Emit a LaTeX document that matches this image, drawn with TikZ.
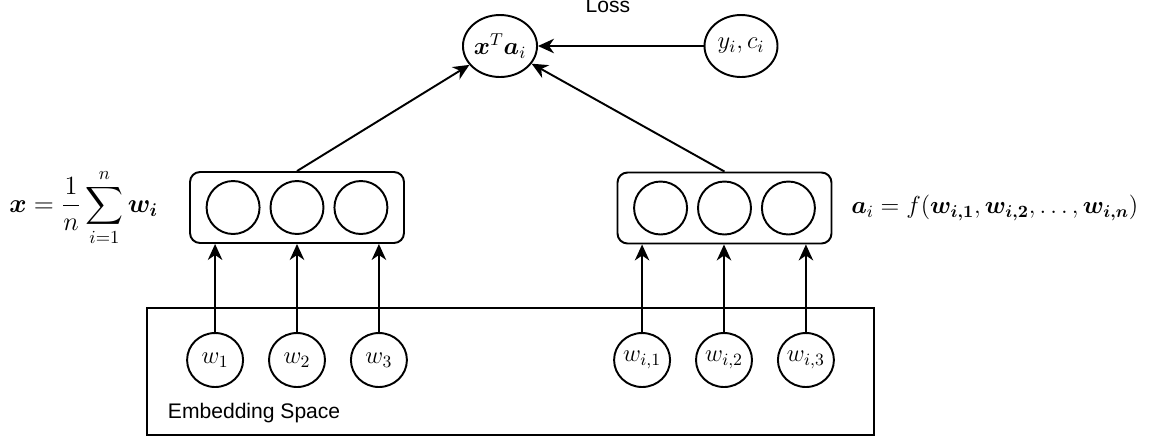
\RequirePackage{fix-cm}
\documentclass[tikz,border=0pt]{standalone}
\usepackage{amsmath}
\usepackage{amssymb}
\usepackage{bm}
\usepackage[no-math]{fontspec}
\newfontfamily\labelfont{Liberation Sans}
\usetikzlibrary{shapes.geometric,arrows.meta}
\usetikzlibrary{positioning}
\tikzset{auto,>={Stealth[length=3.2mm,width=2.9mm,inset=1mm]}, font=\fontsize{14}{16}\selectfont}
\tikzstyle{unit} = [draw, ellipse, inner sep=0pt, minimum width=1.06cm, minimum height=1.06cm]
\tikzstyle{word} = [draw, ellipse, inner sep=0pt, minimum width=1.12cm, minimum height=1.08cm]
\tikzstyle{score} = [draw, ellipse, inner sep=0pt, minimum width=1.46cm, minimum height=1.24cm]
\tikzstyle{layer} = [draw, rectangle, rounded corners=0.2cm, minimum width=4.28cm, minimum height=1.42cm]
\tikzstyle{caption} = [font=\labelfont\fontsize{12}{14}\selectfont, inner sep=0pt]

\begin{document}
\begin{tikzpicture}[x=0.02cm, y=-0.02cm, line width=1.1pt]
    \useasboundingbox (0,0) rectangle (1157,441);
    % scores and loss
    \node [score] (xa) at (500,46) {$\bm{x}^T\bm{a}_i$};
    \node [score] (yc) at (741,46) {$y_i, c_i$};
    \node [caption, anchor=base] (loss) at (608,12) {Loss};

    % hidden layers
    \node [layer] (lbox) at (297,207.5) {};
    \node [layer] (rbox) at (724.5,208) {};
    \node [unit] (l2) at (lbox.center) {};
    \node [unit, left=0.18cm of l2] (l1) {};
    \node [unit, right=0.18cm of l2] (l3) {};
    \node [unit] (r2) at (rbox.center) {};
    \node [unit, left=0.18cm of r2] (r1) {};
    \node [unit, right=0.18cm of r2] (r3) {};
    \node [left=0.6cm of lbox, inner sep=0pt, font=\fontsize{15}{17}\selectfont] (xdef) {$\displaystyle \bm{x} = \frac{1}{n}\sum_{i=1}^{n}\bm{w_i}$};
    \node [right=0.36cm of rbox, inner sep=0pt] (adef) {$\bm{a}_i = f(\bm{w_{i,1}}, \bm{w_{i,2}}, \ldots, \bm{w_{i,n}})$};

    % embedding space
    \node [draw, rectangle, minimum width=14.54cm, minimum height=2.54cm] (space) at (510.5,371.5) {};
    \node [caption, anchor=base west] (spacename) at (167,418) {Embedding Space};
    \node [word] (w2) at (297,360) {$w_2$};
    \node [word, left=0.48cm of w2] (w1) {$w_1$};
    \node [word, right=0.48cm of w2] (w3) {$w_3$};
    \node [word] (wi2) at (724,360) {$w_{i,2}$};
    \node [word, left=0.48cm of wi2] (wi1) {$w_{i,1}$};
    \node [word, right=0.48cm of wi2] (wi3) {$w_{i,3}$};

    \draw [->] (yc) -- (xa);
    \draw [->] (lbox.north) -- (xa);
    \draw [->] (rbox.north) -- (xa);
    \foreach \w in {w1,w2,w3}
        \draw [->] (\w.north) -- (\w.north |- lbox.south);
    \foreach \w in {wi1,wi2,wi3}
        \draw [->] (\w.north) -- (\w.north |- rbox.south);
\end{tikzpicture}
\end{document}
